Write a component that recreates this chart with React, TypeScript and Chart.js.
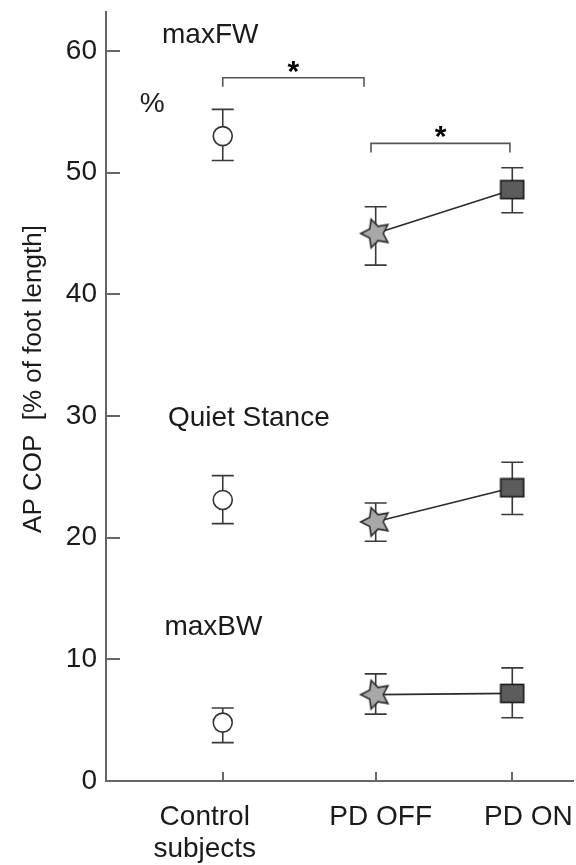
import React, { useEffect, useRef } from 'react';
import { Chart, registerables } from 'chart.js';

Chart.register(...registerables);

// ---- data ----
const groups = ['Control subjects', 'PD OFF', 'PD ON'];
const groupLabelLines = [['Control', 'subjects'], ['PD OFF'], ['PD ON']];
const groupX = [1, 2.31, 3.48];
const labelShift = [-18, 5, 16];

const yTicks = [0, 10, 20, 30, 40, 50, 60];
const Y_MAX = 63.2;
const X_MAX = 4;

const maxFWMean = [53.0, 45.0, 48.6];
const maxFWLow = [51.0, 42.4, 46.7];
const maxFWHigh = [55.2, 47.2, 50.4];

const quietMean = [23.1, 21.3, 24.1];
const quietLow = [21.15, 19.7, 21.9];
const quietHigh = [25.1, 22.85, 26.2];

const maxBWMean = [4.8, 7.1, 7.2];
const maxBWLow = [3.15, 5.5, 5.2];
const maxBWHigh = [6.0, 8.8, 9.3];

const conditionNames = ['maxFW', 'Quiet Stance', 'maxBW'];
const conditionLabelX = [0.48, 0.53, 0.5];
const conditionLabelY = [60.65, 29.2, 12.0];
const unitText = '%';
const unitX = 0.29;
const unitY = 55.0;

const bracketFrom = [1.0, 2.27];
const bracketTo = [2.21, 3.46];
const bracketY = [57.8, 52.4];
const bracketDrop = 0.75;
const sigMarks = ['*', '*'];

const yTitle = 'AP COP  [% of foot length]';

const FONT = '"Liberation Sans", Arial, Helvetica, sans-serif';
const TEXT = '#1a1a1a';
const AXIS = '#666666';

const errorSeries = [
  { mean: maxFWMean, low: maxFWLow, high: maxFWHigh },
  { mean: quietMean, low: quietLow, high: quietHigh },
  { mean: maxBWMean, low: maxBWLow, high: maxBWHigh },
];

function makeStar(): HTMLCanvasElement {
  const c = document.createElement('canvas');
  c.width = 36;
  c.height = 36;
  const ctx = c.getContext('2d')!;
  const cx = 18, cy = 18, R = 15, r = 7.5;
  const rot = (-18 * Math.PI) / 180;
  ctx.beginPath();
  for (let i = 0; i < 10; i++) {
    const ang = -Math.PI / 2 + rot + (i * Math.PI) / 5;
    const rad = i % 2 === 0 ? R : r;
    const px = cx + rad * Math.cos(ang);
    const py = cy + rad * Math.sin(ang);
    if (i === 0) ctx.moveTo(px, py);
    else ctx.lineTo(px, py);
  }
  ctx.closePath();
  ctx.fillStyle = '#a8a8a8';
  ctx.fill();
  ctx.lineWidth = 1.6;
  ctx.strokeStyle = '#2a2a2a';
  ctx.lineJoin = 'miter';
  ctx.stroke();
  return c;
}

function makeSquare(): HTMLCanvasElement {
  const c = document.createElement('canvas');
  c.width = 26;
  c.height = 21;
  const ctx = c.getContext('2d')!;
  ctx.fillStyle = '#5c5c5c';
  ctx.fillRect(1.5, 1.5, 23, 18);
  ctx.lineWidth = 1.6;
  ctx.strokeStyle = '#1a1a1a';
  ctx.strokeRect(1.5, 1.5, 23, 18);
  return c;
}

const overlayPlugin = {
  id: 'overlay',
  beforeDatasetsDraw(chart: any) {
    const { ctx, scales } = chart;
    const xs = scales.x;
    const ys = scales.y;
    ctx.save();
    ctx.strokeStyle = '#3a3a3a';
    ctx.lineWidth = 1.6;
    const capHalf = 11;
    errorSeries.forEach((s) => {
      for (let i = 0; i < groupX.length; i++) {
        const x = xs.getPixelForValue(groupX[i]);
        const yl = ys.getPixelForValue(s.low[i]);
        const yh = ys.getPixelForValue(s.high[i]);
        ctx.beginPath();
        ctx.moveTo(x, yl);
        ctx.lineTo(x, yh);
        ctx.moveTo(x - capHalf, yl);
        ctx.lineTo(x + capHalf, yl);
        ctx.moveTo(x - capHalf, yh);
        ctx.lineTo(x + capHalf, yh);
        ctx.stroke();
      }
    });
    ctx.restore();
  },
  afterDraw(chart: any) {
    const { ctx, scales, chartArea } = chart;
    const xs = scales.x;
    const ys = scales.y;
    ctx.save();
    // inward tick marks
    ctx.strokeStyle = AXIS;
    ctx.lineWidth = 2;
    yTicks.forEach((v) => {
      const y = Math.round(ys.getPixelForValue(v));
      ctx.beginPath();
      ctx.moveTo(chartArea.left, y);
      ctx.lineTo(chartArea.left + 14, y);
      ctx.stroke();
    });
    groupX.forEach((v) => {
      const x = Math.round(xs.getPixelForValue(v));
      ctx.beginPath();
      ctx.moveTo(x, chartArea.bottom);
      ctx.lineTo(x, chartArea.bottom - 9);
      ctx.stroke();
    });

    // brackets
    ctx.strokeStyle = '#555555';
    ctx.lineWidth = 1.6;
    for (let i = 0; i < bracketFrom.length; i++) {
      const x1 = xs.getPixelForValue(bracketFrom[i]);
      const x2 = xs.getPixelForValue(bracketTo[i]);
      const y = ys.getPixelForValue(bracketY[i]);
      const yd = ys.getPixelForValue(bracketY[i] - bracketDrop);
      ctx.beginPath();
      ctx.moveTo(x1, yd);
      ctx.lineTo(x1, y);
      ctx.lineTo(x2, y);
      ctx.lineTo(x2, yd);
      ctx.stroke();
      ctx.fillStyle = '#000';
      ctx.font = `bold 30px ${FONT}`;
      ctx.textAlign = 'center';
      ctx.textBaseline = 'alphabetic';
      ctx.fillText(sigMarks[i], (x1 + x2) / 2, y + 3);
    }

    // condition labels
    ctx.fillStyle = TEXT;
    ctx.font = `28px ${FONT}`;
    ctx.textAlign = 'left';
    ctx.textBaseline = 'alphabetic';
    conditionNames.forEach((n, i) => {
      ctx.fillText(n, xs.getPixelForValue(conditionLabelX[i]), ys.getPixelForValue(conditionLabelY[i]));
    });
    ctx.fillText(unitText, xs.getPixelForValue(unitX), ys.getPixelForValue(unitY));

    // x category labels
    ctx.textAlign = 'center';
    groupLabelLines.forEach((lines, i) => {
      const x = xs.getPixelForValue(groupX[i]) + labelShift[i];
      lines.forEach((ln, j) => {
        ctx.fillText(ln, x, chartArea.bottom + 44 + j * 32);
      });
    });

    // y title
    ctx.save();
    ctx.translate(34, 379);
    ctx.rotate(-Math.PI / 2);
    ctx.font = `26px ${FONT}`;
    ctx.textAlign = 'center';
    ctx.textBaseline = 'middle';
    ctx.fillText(yTitle, 0, 0);
    ctx.restore();

    ctx.restore();
  },
};

export default function App() {
  const ref = useRef<HTMLCanvasElement | null>(null);

  useEffect(() => {
    if (!ref.current) return;
    const star = makeStar();
    const square = makeSquare();

    const datasets: any[] = [];
    errorSeries.forEach((s, k) => {
      datasets.push({
        label: `${conditionNames[k]} ${groups[0]}`,
        data: [{ x: groupX[0], y: s.mean[0] }],
        pointStyle: 'circle',
        pointRadius: 9.5,
        backgroundColor: '#ffffff',
        borderColor: '#333333',
        borderWidth: 1.6,
        showLine: false,
      });
      datasets.push({
        label: `${conditionNames[k]} PD`,
        data: [
          { x: groupX[1], y: s.mean[1] },
          { x: groupX[2], y: s.mean[2] },
        ],
        showLine: true,
        borderColor: '#2a2a2a',
        borderWidth: 1.6,
        pointStyle: [star, square],
        pointRadius: 10,
        pointBackgroundColor: '#a8a8a8',
        pointBorderColor: '#2a2a2a',
      });
    });

    const chart = new Chart(ref.current, {
      type: 'scatter',
      data: { datasets },
      options: {
        animation: false,
        responsive: false,
        devicePixelRatio: 1,
        events: [],
        layout: { autoPadding: false, padding: { top: 12, right: 3, left: 0, bottom: 0 } },
        plugins: {
          legend: { display: false },
          tooltip: { enabled: false },
        },
        scales: {
          x: {
            type: 'linear',
            min: 0,
            max: X_MAX,
            afterBuildTicks: (axis: any) => {
              axis.ticks = groupX.map((v) => ({ value: v }));
            },
            afterFit: (axis: any) => {
              axis.height = 84;
              axis.paddingLeft = 0;
              axis.paddingRight = 0;
            },
            ticks: { display: false },
            grid: { display: true, drawOnChartArea: false, drawTicks: false },
            border: { display: true, color: AXIS, width: 2 },
          },
          y: {
            type: 'linear',
            min: 0,
            max: Y_MAX,
            afterBuildTicks: (axis: any) => {
              axis.ticks = yTicks.map((v) => ({ value: v }));
            },
            afterFit: (axis: any) => {
              axis.width = 106;
              axis.paddingTop = 0;
              axis.paddingBottom = 0;
            },
            ticks: {
              color: TEXT,
              font: { family: FONT, size: 28 },
              padding: 9,
            },
            grid: { display: true, drawOnChartArea: false, drawTicks: false },
            border: { display: true, color: AXIS, width: 2 },
          },
        },
      },
      plugins: [overlayPlugin],
    });
    return () => chart.destroy();
  }, []);

  return (
    <div style={{ position: 'fixed', left: 0, top: 0, width: 576, height: 865, background: '#fff' }}>
      <canvas ref={ref} width={576} height={865} style={{ width: 576, height: 865, display: 'block' }} />
    </div>
  );
}
